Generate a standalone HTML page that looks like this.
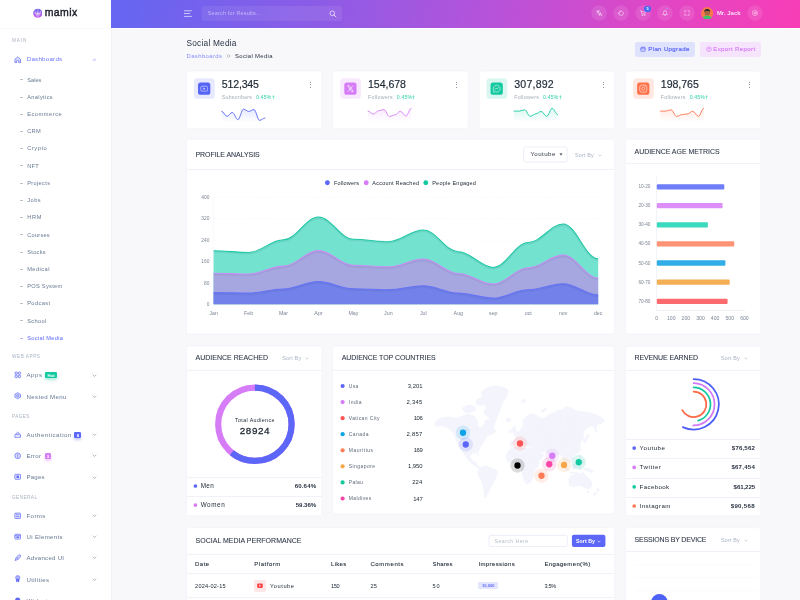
<!DOCTYPE html>
<html lang="en"><head><meta charset="utf-8"><title>Mamix - Social Media Dashboard</title><meta name="viewport" content="width=800"><style>
*{box-sizing:border-box;margin:0;padding:0}
html,body{width:800px;height:600px;overflow:hidden;background:#f8f8fb}
body{font-family:"Liberation Sans",sans-serif;position:relative;color:#212b37}
#root{position:absolute;left:0;top:0;width:800px;height:600px;overflow:hidden;will-change:transform}
#root span,#root div,#root svg,#root h1,#root h2,#root a,#root p,#root li{position:absolute;white-space:nowrap;font-weight:400;list-style:none;text-decoration:none}
#root aside,#root header,#root main,#root section,#root nav,#root ul,#root table,#root article{position:static;display:block}
.card{background:#fff;border-radius:3px;box-shadow:0 0 1.2px rgba(110,110,220,.16)}
.sep{background:#f1f2f8;height:1px}
.dot{border-radius:50%}
</style></head><body><div id="root">
<aside>
<div style="left:0.00px;top:0.00px;width:112.00px;height:600.00px;background:#fff;border-right:1px solid #f1f2f8;"></div>
<div style="left:0.00px;top:27.50px;width:110.00px;height:1.00px;background:#f9f9fc;"></div>
<svg style="left:32.7px;top:7.9px;width:9.6px;height:10.5px" viewBox="0 0 20 21"><defs><linearGradient id="lg" x1="0" y1="0" x2="0" y2="1"><stop offset="0" stop-color="#6a63f2"/><stop offset="1" stop-color="#cf5ff0"/></linearGradient></defs><circle cx="10" cy="10.5" r="9.6" fill="url(#lg)"/><path d="M4 6 L7.5 15 L10 9 L12.5 15 L16 6 M3 10.5 H17 M10 2 V19" stroke="#fff" stroke-width="1.1" fill="none" opacity=".85"/></svg>
<span id="t1" style="left:44.70px;top:6.00px;font-size:10.50px;line-height:13.65px;color:#1d1f2b;letter-spacing:0.420px;-webkit-text-stroke:.42px #1d1f2b;">mamix</span>
<nav>
<span id="t2" style="left:12.00px;top:38.00px;font-size:4.70px;line-height:6.11px;color:#a9b3c3;letter-spacing:0.927px;">MAIN</span>
<svg style="left:14.00px;top:56.00px;width:7.4px;height:7.4px" viewBox="0 0 8 8"><path d="M1 7.4 V3.6 L4 1 L7 3.6 V7.4 H5.2 V5.2 Q4 4 2.8 5.2 V7.4 Z" fill="#dfe1fd" stroke="#5c67f7" stroke-width=".8" stroke-linejoin="round"/></svg>
<span id="t3" style="left:26.70px;top:55.00px;font-size:6.20px;line-height:8.06px;color:#6b75f8;letter-spacing:0.236px;">Dashboards</span>
<svg style="left:91.50px;top:57.55px;width:5px;height:3.5px" viewBox="0 0 5 3.5"><path d="M1 2.5 L2.5 1.1 L4 2.5" fill="none" stroke="#5c67f7" stroke-width=".6" stroke-linecap="round" stroke-linejoin="round" opacity=".85"/></svg>
<ul>
<li><div style="left:20.00px;top:79.30px;width:2.80px;height:0.70px;background:#677992;opacity:.45;"></div><span id="t4" style="left:27.20px;top:77.00px;font-size:5.70px;line-height:7.41px;color:#677992;letter-spacing:-0.009px;">Sales</span></li>
<li><div style="left:20.00px;top:96.52px;width:2.80px;height:0.70px;background:#677992;opacity:.45;"></div><span id="t5" style="left:27.20px;top:94.00px;font-size:5.70px;line-height:7.41px;color:#677992;letter-spacing:0.342px;">Analytics</span></li>
<li><div style="left:20.00px;top:113.74px;width:2.80px;height:0.70px;background:#677992;opacity:.45;"></div><span id="t6" style="left:27.20px;top:111.00px;font-size:5.70px;line-height:7.41px;color:#677992;letter-spacing:0.520px;">Ecommerce</span></li>
<li><div style="left:20.00px;top:130.96px;width:2.80px;height:0.70px;background:#677992;opacity:.45;"></div><span id="t7" style="left:27.20px;top:128.00px;font-size:5.70px;line-height:7.41px;color:#677992;letter-spacing:0.273px;">CRM</span></li>
<li><div style="left:20.00px;top:148.18px;width:2.80px;height:0.70px;background:#677992;opacity:.45;"></div><span id="t8" style="left:27.20px;top:145.00px;font-size:5.70px;line-height:7.41px;color:#677992;letter-spacing:0.547px;">Crypto</span></li>
<li><div style="left:20.00px;top:165.40px;width:2.80px;height:0.70px;background:#677992;opacity:.45;"></div><span id="t9" style="left:27.20px;top:163.00px;font-size:5.70px;line-height:7.41px;color:#677992;letter-spacing:0.219px;">NFT</span></li>
<li><div style="left:20.00px;top:182.62px;width:2.80px;height:0.70px;background:#677992;opacity:.45;"></div><span id="t10" style="left:27.20px;top:180.00px;font-size:5.70px;line-height:7.41px;color:#677992;letter-spacing:0.322px;">Projects</span></li>
<li><div style="left:20.00px;top:199.84px;width:2.80px;height:0.70px;background:#677992;opacity:.45;"></div><span id="t11" style="left:27.20px;top:197.00px;font-size:5.70px;line-height:7.41px;color:#677992;letter-spacing:0.495px;">Jobs</span></li>
<li><div style="left:20.00px;top:217.06px;width:2.80px;height:0.70px;background:#677992;opacity:.45;"></div><span id="t12" style="left:27.20px;top:214.00px;font-size:5.70px;line-height:7.41px;color:#677992;letter-spacing:0.623px;">HRM</span></li>
<li><div style="left:20.00px;top:234.28px;width:2.80px;height:0.70px;background:#677992;opacity:.45;"></div><span id="t13" style="left:27.20px;top:232.00px;font-size:5.70px;line-height:7.41px;color:#677992;letter-spacing:0.219px;">Courses</span></li>
<li><div style="left:20.00px;top:251.50px;width:2.80px;height:0.70px;background:#677992;opacity:.45;"></div><span id="t14" style="left:27.20px;top:249.00px;font-size:5.70px;line-height:7.41px;color:#677992;letter-spacing:0.284px;">Stocks</span></li>
<li><div style="left:20.00px;top:268.72px;width:2.80px;height:0.70px;background:#677992;opacity:.45;"></div><span id="t15" style="left:27.20px;top:266.00px;font-size:5.70px;line-height:7.41px;color:#677992;letter-spacing:0.448px;">Medical</span></li>
<li><div style="left:20.00px;top:285.94px;width:2.80px;height:0.70px;background:#677992;opacity:.45;"></div><span id="t16" style="left:27.20px;top:283.00px;font-size:5.70px;line-height:7.41px;color:#677992;letter-spacing:0.271px;">POS System</span></li>
<li><div style="left:20.00px;top:303.16px;width:2.80px;height:0.70px;background:#677992;opacity:.45;"></div><span id="t17" style="left:27.20px;top:300.00px;font-size:5.70px;line-height:7.41px;color:#677992;letter-spacing:0.373px;">Podcast</span></li>
<li><div style="left:20.00px;top:320.38px;width:2.80px;height:0.70px;background:#677992;opacity:.45;"></div><span id="t18" style="left:27.20px;top:318.00px;font-size:5.70px;line-height:7.41px;color:#677992;letter-spacing:0.362px;">School</span></li>
<li><div style="left:20.00px;top:337.60px;width:2.80px;height:0.70px;background:#5c67f7;opacity:.45;"></div><span id="t19" style="left:27.20px;top:335.00px;font-size:5.70px;line-height:7.41px;color:#5c67f7;letter-spacing:0.294px;">Social Media</span></li>
</ul>
<span id="t20" style="left:12.00px;top:354.00px;font-size:4.70px;line-height:6.11px;color:#a9b3c3;letter-spacing:0.538px;">WEB APPS</span>
<svg style="left:14.00px;top:371.20px;width:7.4px;height:7.4px" viewBox="0 0 8 8"><g fill="#dfe1fd" stroke="#5c67f7" stroke-width=".75"><circle cx="2.4" cy="2.4" r="1.4"/><circle cx="5.9" cy="2.4" r="1.4"/><circle cx="2.4" cy="5.9" r="1.4"/><circle cx="5.9" cy="5.9" r="1.4"/></g></svg>
<span id="t21" style="left:26.50px;top:371.00px;font-size:6.10px;line-height:7.93px;color:#677992;letter-spacing:0.536px;">Apps</span>
<svg style="left:91.50px;top:373.55px;width:5px;height:3.5px" viewBox="0 0 5 3.5"><path d="M1 1.0 L2.5 2.4 L4 1.0" fill="none" stroke="#677992" stroke-width=".6" stroke-linecap="round" stroke-linejoin="round" opacity=".85"/></svg>
<svg style="left:14.00px;top:392.40px;width:7.4px;height:7.4px" viewBox="0 0 8 8"><g fill="#dfe1fd" stroke="#5c67f7" stroke-width=".75" stroke-linejoin="round"><path d="M4 .8 L7 2.4 V5.6 L4 7.3 L1 5.6 V2.4 Z"/><circle cx="4" cy="4" r="1.2"/></g></svg>
<span id="t22" style="left:26.50px;top:393.00px;font-size:6.10px;line-height:7.93px;color:#677992;letter-spacing:0.355px;">Nested Menu</span>
<svg style="left:91.50px;top:394.75px;width:5px;height:3.5px" viewBox="0 0 5 3.5"><path d="M1 1.0 L2.5 2.4 L4 1.0" fill="none" stroke="#677992" stroke-width=".6" stroke-linecap="round" stroke-linejoin="round" opacity=".85"/></svg>
<svg style="left:14.00px;top:430.90px;width:7.4px;height:7.4px" viewBox="0 0 8 8"><g fill="#dfe1fd" stroke="#5c67f7" stroke-width=".75" stroke-linejoin="round"><rect x="1" y="3.4" width="6" height="4" rx=".8"/><path d="M2.6 3.4 V2.4 Q4 .2 5.4 2.4 V3.4" fill="none"/></g></svg>
<span id="t23" style="left:26.50px;top:431.00px;font-size:6.10px;line-height:7.93px;color:#677992;letter-spacing:0.467px;">Authentication</span>
<svg style="left:91.50px;top:433.25px;width:5px;height:3.5px" viewBox="0 0 5 3.5"><path d="M1 1.0 L2.5 2.4 L4 1.0" fill="none" stroke="#677992" stroke-width=".6" stroke-linecap="round" stroke-linejoin="round" opacity=".85"/></svg>
<svg style="left:14.00px;top:452.10px;width:7.4px;height:7.4px" viewBox="0 0 8 8"><g fill="#dfe1fd" stroke="#5c67f7" stroke-width=".75"><circle cx="4" cy="4.1" r="3.1"/><path d="M4 2.5 V4.5 M4 5.4 V5.8" stroke-linecap="round"/></g></svg>
<span id="t24" style="left:26.50px;top:452.00px;font-size:6.10px;line-height:7.93px;color:#677992;letter-spacing:0.238px;">Error</span>
<svg style="left:91.50px;top:454.45px;width:5px;height:3.5px" viewBox="0 0 5 3.5"><path d="M1 1.0 L2.5 2.4 L4 1.0" fill="none" stroke="#677992" stroke-width=".6" stroke-linecap="round" stroke-linejoin="round" opacity=".85"/></svg>
<svg style="left:14.00px;top:473.20px;width:7.4px;height:7.4px" viewBox="0 0 8 8"><g fill="#dfe1fd" stroke="#5c67f7" stroke-width=".75" stroke-linejoin="round"><rect x=".9" y="1.4" width="6.2" height="5.4" rx=".8"/><rect x="2.7" y="2.8" width="2.6" height="2.6" fill="#5c67f7" stroke="none"/></g></svg>
<span id="t25" style="left:26.50px;top:473.00px;font-size:6.10px;line-height:7.93px;color:#677992;letter-spacing:0.180px;">Pages</span>
<svg style="left:91.50px;top:475.55px;width:5px;height:3.5px" viewBox="0 0 5 3.5"><path d="M1 1.0 L2.5 2.4 L4 1.0" fill="none" stroke="#677992" stroke-width=".6" stroke-linecap="round" stroke-linejoin="round" opacity=".85"/></svg>
<svg style="left:14.00px;top:511.90px;width:7.4px;height:7.4px" viewBox="0 0 8 8"><g fill="#dfe1fd" stroke="#5c67f7" stroke-width=".75" stroke-linejoin="round"><rect x=".9" y="1.2" width="6.2" height="5.8" rx=".8"/><path d="M2.2 3 H5.8 M2.2 5 H5.8" /></g></svg>
<span id="t26" style="left:26.50px;top:512.00px;font-size:6.10px;line-height:7.93px;color:#677992;letter-spacing:0.384px;">Forms</span>
<svg style="left:91.50px;top:514.25px;width:5px;height:3.5px" viewBox="0 0 5 3.5"><path d="M1 1.0 L2.5 2.4 L4 1.0" fill="none" stroke="#677992" stroke-width=".6" stroke-linecap="round" stroke-linejoin="round" opacity=".85"/></svg>
<svg style="left:14.00px;top:532.90px;width:7.4px;height:7.4px" viewBox="0 0 8 8"><g fill="#dfe1fd" stroke="#5c67f7" stroke-width=".75" stroke-linejoin="round"><rect x=".9" y="1.4" width="6.2" height="5.2" rx=".8"/><path d="M.9 3 H7.1" /><rect x="2.6" y="3.9" width="2.8" height="1.4" fill="#5c67f7" stroke="none"/></g></svg>
<span id="t27" style="left:26.50px;top:533.00px;font-size:6.10px;line-height:7.93px;color:#677992;letter-spacing:0.314px;">Ui Elements</span>
<svg style="left:91.50px;top:535.25px;width:5px;height:3.5px" viewBox="0 0 5 3.5"><path d="M1 1.0 L2.5 2.4 L4 1.0" fill="none" stroke="#677992" stroke-width=".6" stroke-linecap="round" stroke-linejoin="round" opacity=".85"/></svg>
<svg style="left:14.00px;top:554.10px;width:7.4px;height:7.4px" viewBox="0 0 8 8"><g fill="#dfe1fd" stroke="#5c67f7" stroke-width=".75" stroke-linejoin="round"><path d="M1.2 7 L2.4 3.6 L4.6 5.8 Z"/><path d="M3.2 2.8 Q5.5 .2 7 1.2 Q7.6 3.2 5.2 5 Z"/></g></svg>
<span id="t28" style="left:26.50px;top:554.00px;font-size:6.10px;line-height:7.93px;color:#677992;letter-spacing:0.261px;">Advanced UI</span>
<svg style="left:91.50px;top:556.45px;width:5px;height:3.5px" viewBox="0 0 5 3.5"><path d="M1 1.0 L2.5 2.4 L4 1.0" fill="none" stroke="#677992" stroke-width=".6" stroke-linecap="round" stroke-linejoin="round" opacity=".85"/></svg>
<svg style="left:14.00px;top:575.40px;width:7.4px;height:7.4px" viewBox="0 0 8 8"><g fill="#5c67f7" stroke="#5c67f7" stroke-width=".6" stroke-linejoin="round"><circle cx="4" cy="2.9" r="2.3" fill="#aeb4fb"/><path d="M2.6 4.6 V7.6 L4 6.6 L5.4 7.6 V4.6 Z"/></g></svg>
<span id="t29" style="left:26.50px;top:576.00px;font-size:6.10px;line-height:7.93px;color:#677992;letter-spacing:0.357px;">Utilities</span>
<svg style="left:91.50px;top:577.75px;width:5px;height:3.5px" viewBox="0 0 5 3.5"><path d="M1 1.0 L2.5 2.4 L4 1.0" fill="none" stroke="#677992" stroke-width=".6" stroke-linecap="round" stroke-linejoin="round" opacity=".85"/></svg>
<svg style="left:14.00px;top:596.50px;width:7.4px;height:7.4px" viewBox="0 0 8 8"><g fill="#5c67f7" stroke="#5c67f7" stroke-width=".6"><circle cx="4" cy="3.5" r="2.6"/></g></svg>
<span id="t30" style="left:26.50px;top:597.00px;font-size:6.10px;line-height:7.93px;color:#677992;letter-spacing:0.414px;">Widgets</span>
<span id="t31" style="left:12.00px;top:414.00px;font-size:4.70px;line-height:6.11px;color:#a9b3c3;letter-spacing:0.422px;">PAGES</span>
<span id="t32" style="left:12.00px;top:495.00px;font-size:4.70px;line-height:6.11px;color:#a9b3c3;letter-spacing:0.432px;">GENERAL</span>
<div style="left:45.00px;top:372.20px;width:12.40px;height:6.20px;background:#12c9a0;border-radius:1.2px;box-shadow:0 2px 3px rgba(18,201,160,.35);"></div>
<span id="t33" style="left:51.20px;transform:translateX(-50%);top:373.00px;font-size:4.30px;line-height:5.59px;color:#fff;font-weight:700;">Hot</span>
<div style="left:74.40px;top:431.80px;width:7.00px;height:6.40px;background:#5c67f7;border-radius:1.2px;box-shadow:0 2px 3px rgba(92,103,247,.35);"></div>
<span id="t34" style="left:77.90px;transform:translateX(-50%);top:433.00px;font-size:4.30px;line-height:5.59px;color:#fff;font-weight:700;">8</span>
<div style="left:44.50px;top:453.00px;width:6.90px;height:6.40px;background:#d77cf7;border-radius:1.2px;box-shadow:0 2px 3px rgba(215,124,247,.4);"></div>
<span id="t35" style="left:47.90px;transform:translateX(-50%);top:454.00px;font-size:4.30px;line-height:5.59px;color:#fff;font-weight:700;">3</span>
</nav></aside>
<header>
<div style="left:112.00px;top:28.00px;width:688.00px;height:1.00px;background:#fefefe;"></div>
<div style="left:111.00px;top:0.00px;width:689.00px;height:28.00px;background:linear-gradient(100deg,#6466f2 0%,#8c5ce6 30%,#b653da 55%,#e246c4 80%,#f73db6 100%);"></div>
<svg style="left:184px;top:9.5px;width:8px;height:7px" viewBox="0 0 8 7"><path d="M.4 .8 H7.4 M.4 3.5 H5.6 M.4 6.4 H7.4" stroke="#fff" stroke-width=".75" stroke-linecap="round" opacity=".85"/></svg>
<div style="left:202.00px;top:5.60px;width:139.50px;height:15.20px;background:rgba(255,255,255,.075);border-radius:2.5px;"></div>
<span id="t36" style="left:207.80px;top:10.00px;font-size:5.40px;line-height:7.02px;color:rgba(255,255,255,.5);letter-spacing:0.208px;">Search for Results...</span>
<svg style="left:329px;top:9.5px;width:8px;height:8px" viewBox="0 0 8 8"><circle cx="3.3" cy="3.3" r="2.3" fill="none" stroke="#fff" stroke-width=".8" opacity=".8"/><path d="M5 5 L7 7" stroke="#fff" stroke-width=".9" stroke-linecap="round" opacity=".8"/></svg>
<svg style="left:591.30px;top:5.3px;width:16px;height:16px" viewBox="-8 -8 16 16"><circle r="7.5" fill="rgba(255,255,255,.1)" stroke="rgba(255,255,255,.1)" stroke-width=".4"/><g fill="none" stroke="#fff" stroke-width=".7" stroke-linecap="round" stroke-linejoin="round" opacity=".72" transform="scale(.92)"><path d="M-2.6 -2 H.4 M-1.1 -2.7 V-2 M-2.2 .6 Q-.2 -.4 -.1 -2 M-2 -1 Q-1.2 .2 .2 .6 M0 2.8 L1.4 -.6 L2.8 2.8 M.5 1.8 H2.3" /></g></svg>
<svg style="left:613.20px;top:5.3px;width:16px;height:16px" viewBox="-8 -8 16 16"><circle r="7.5" fill="rgba(255,255,255,.1)" stroke="rgba(255,255,255,.1)" stroke-width=".4"/><g fill="none" stroke="#fff" stroke-width=".7" stroke-linecap="round" stroke-linejoin="round" opacity=".72" transform="scale(.92)"><path d="M-2.6 .4 Q-2.6 -1.6 -.2 -1.4 Q.8 -3 1.6 -1.4 Q2.8 -.6 2.6 .8 Q2.2 2.6 0 2.6 Q-2.6 2.6 -2.6 .4 Z M-.6 -2.6 Q.2 -2 -.2 -1.4" /></g></svg>
<svg style="left:635.20px;top:5.3px;width:16px;height:16px" viewBox="-8 -8 16 16"><circle r="7.5" fill="rgba(255,255,255,.1)" stroke="rgba(255,255,255,.1)" stroke-width=".4"/><g fill="none" stroke="#fff" stroke-width=".7" stroke-linecap="round" stroke-linejoin="round" opacity=".72" transform="scale(.92)"><path d="M-3 -2.4 H-2 L-1.2 1 H2 L2.8 -1.4 H-1.7" /><circle cx="-.9" cy="2.3" r=".45"/><circle cx="1.7" cy="2.3" r=".45"/></g></svg>
<svg style="left:657.10px;top:5.3px;width:16px;height:16px" viewBox="-8 -8 16 16"><circle r="7.5" fill="rgba(255,255,255,.1)" stroke="rgba(255,255,255,.1)" stroke-width=".4"/><g fill="none" stroke="#fff" stroke-width=".7" stroke-linecap="round" stroke-linejoin="round" opacity=".72" transform="scale(.92)"><path d="M-2.2 1.4 Q-1.6 .6 -1.6 -.6 Q-1.6 -2.6 0 -2.6 Q1.6 -2.6 1.6 -.6 Q1.6 .6 2.2 1.4 Z M-.7 2.4 Q0 3 .7 2.4" /></g></svg>
<svg style="left:678.70px;top:5.3px;width:16px;height:16px" viewBox="-8 -8 16 16"><circle r="7.5" fill="rgba(255,255,255,.1)" stroke="rgba(255,255,255,.1)" stroke-width=".4"/><g fill="none" stroke="#fff" stroke-width=".7" stroke-linecap="round" stroke-linejoin="round" opacity=".72" transform="scale(.92)"><path d="M-2.4 -1 V-2.4 H-1 M1 -2.4 H2.4 V-1 M2.4 1 V2.4 H1 M-1 2.4 H-2.4 V1" /></g></svg>
<svg style="left:747.40px;top:5.3px;width:16px;height:16px" viewBox="-8 -8 16 16"><circle r="7.5" fill="rgba(255,255,255,.1)" stroke="rgba(255,255,255,.1)" stroke-width=".4"/><g fill="none" stroke="#fff" stroke-width=".7" stroke-linecap="round" stroke-linejoin="round" opacity=".72" transform="scale(.92)"><path d="M0 -2.9 L2.5 -1.45 V1.45 L0 2.9 L-2.5 1.45 V-1.45 Z" /><circle cx="0" cy="0" r="1.1"/></g></svg>
<div style="left:644.30px;top:5.60px;width:6.40px;height:6.40px;background:#3f6cf3;border-radius:3.2px;"></div>
<span id="t37" style="left:647.50px;transform:translateX(-50%);top:6.00px;font-size:3.90px;line-height:5.07px;color:#fff;font-weight:700;">5</span>
<div style="left:666.10px;top:7.60px;width:1.60px;height:1.60px;background:#a78bfa;border-radius:1px;"></div>
<svg style="left:701px;top:7.1px;width:12.4px;height:12.4px" viewBox="0 0 12.4 12.4"><defs><clipPath id="av"><circle cx="6.2" cy="6.2" r="6.1"/></clipPath></defs><g clip-path="url(#av)"><rect width="12.4" height="12.4" fill="#f9794e"/><ellipse cx="6.2" cy="12.2" rx="5" ry="3.6" fill="#39c46a"/><circle cx="6.2" cy="5.8" r="2.7" fill="#a8683f"/><path d="M3.2 5.2 Q3.4 2 6.2 2.1 Q9 2 9.2 5.2 Q8 3.6 6.2 3.9 Q4.4 3.6 3.2 5.2 Z" fill="#20242c"/></g></svg>
<span id="t38" style="left:716.90px;top:10.00px;font-size:5.90px;line-height:7.67px;color:#fff;font-weight:700;letter-spacing:0.062px;opacity:.82;">Mr. Jack</span>
</header>
<main>
<section>
<h1 id="t39" style="left:186.50px;top:38.00px;font-size:8.30px;line-height:10.79px;color:#2a3343;letter-spacing:0.226px;">Social Media</h1>
<a id="t40" style="left:186.50px;top:53.00px;font-size:5.90px;line-height:7.67px;color:#848bf9;letter-spacing:0.415px;">Dashboards</a>
<svg style="left:226px;top:54.2px;width:5px;height:4px" viewBox="0 0 5 4"><path d="M.6 .6 L2.2 2 L.6 3.4 M2.6 .6 L4.2 2 L2.6 3.4" fill="none" stroke="#8c9097" stroke-width=".55"/></svg>
<span id="t41" style="left:235.00px;top:53.00px;font-size:5.90px;line-height:7.67px;color:#2a3343;letter-spacing:0.342px;">Social Media</span>
<div style="left:634.80px;top:42.00px;width:60.00px;height:14.80px;background:#dfe2fd;border-radius:2px;"></div>
<svg style="left:640.2px;top:46.4px;width:6px;height:6px" viewBox="0 0 6 6"><rect x=".8" y="1.4" width="4.4" height="3.8" rx=".5" fill="none" stroke="#5c67f7" stroke-width=".7"/><path d="M.8 2.8 H5.2 M2 .7 V1.6 M4 .7 V1.6" stroke="#5c67f7" stroke-width=".7"/></svg>
<span id="t42" style="left:648.30px;top:45.00px;font-size:6.10px;line-height:7.93px;color:#5c67f7;letter-spacing:0.339px;-webkit-text-stroke:.18px #5c67f7;">Plan Upgrade</span>
<div style="left:700.00px;top:42.00px;width:60.60px;height:14.80px;background:#f6e4fc;border-radius:2px;"></div>
<svg style="left:705.6px;top:46.4px;width:6px;height:6px" viewBox="0 0 6 6"><circle cx="3" cy="3.2" r="2.3" fill="none" stroke="#d77cf7" stroke-width=".7"/><path d="M3 4.3 V2.2 M2.1 3 L3 2.1 L3.9 3" stroke="#d77cf7" stroke-width=".6" fill="none"/></svg>
<span id="t43" style="left:713.30px;top:45.00px;font-size:6.10px;line-height:7.93px;color:#d77cf7;letter-spacing:0.349px;-webkit-text-stroke:.15px #d77cf7;">Export Report</span>
</section>
<section>
<article>
<svg style="left:0;top:0;width:800px;height:600px" viewBox="0 0 800 600"><rect x="186.45" y="70.95" width="135.60" height="57.60" rx="2.80" fill="#fff" stroke="#eeeefa" stroke-width=".6" class="card"/></svg>
<svg style="left:0;top:0;width:800px;height:600px" viewBox="0 0 800 600"><rect x="194.00" y="78.25" width="20.70" height="20.50" rx="3.60" fill="#e7e9fe"/><rect x="198.05" y="82.50" width="12.25" height="12.25" rx="2.60" fill="#5464f4"/></svg>
<svg style="left:0;top:0;width:800px;height:600px" viewBox="0 0 800 600"><g transform="translate(204.20 88.65) scale(.95)" opacity=".8"><rect x="-3.6" y="-2.6" width="7.2" height="5.2" rx="1.3" fill="none" stroke="#fff" stroke-width=".65"/><path d="M-.9 -1.2 L1.3 0 L-.9 1.2 Z" fill="#fff"/></g></svg>
<span id="t44" style="left:221.75px;top:78.00px;font-size:10.60px;line-height:13.78px;color:#212b37;letter-spacing:-0.183px;-webkit-text-stroke:.16px #212b37;">512,345</span>
<span id="t45" style="left:221.75px;top:94.00px;font-size:5.30px;line-height:6.89px;color:#a3abb8;letter-spacing:0.223px;">Subscribers</span>
<span id="t46" style="left:256.15px;top:94.00px;font-size:5.10px;line-height:6.63px;color:#2bcfa8;letter-spacing:0.187px;">0.45%</span>
<svg style="left:271.75px;top:95.2px;width:3px;height:4.6px" viewBox="0 0 3 4.6"><path d="M1.5 4.2 V.8 M.5 1.8 L1.5 .7 L2.5 1.8" fill="none" stroke="#2bcfa8" stroke-width=".55"/></svg>
<div style="left:310.05px;top:81.70px;width:1.05px;height:1.05px;background:#6b7686;border-radius:1px;"></div>
<div style="left:310.05px;top:84.10px;width:1.05px;height:1.05px;background:#6b7686;border-radius:1px;"></div>
<div style="left:310.05px;top:86.50px;width:1.05px;height:1.05px;background:#6b7686;border-radius:1px;"></div>
<svg style="left:0;top:0;width:800px;height:600px" viewBox="0 0 800 600"><defs><linearGradient id="sg5464f4" x1="0" y1="108" x2="0" y2="121.5" gradientUnits="userSpaceOnUse"><stop offset="0" stop-color="#5464f4" stop-opacity=".16"/><stop offset="1" stop-color="#5464f4" stop-opacity="0.01"/></linearGradient></defs><path d="M221.75 111.25 C223.69 111.25 225.06 116.35 227.00 116.35 C228.94 116.35 230.31 112.40 232.25 112.40 C234.34 112.40 235.81 119.65 237.90 119.65 C239.97 119.65 241.43 109.15 243.50 109.15 C245.44 109.15 246.81 111.40 248.75 111.40 C250.69 111.40 252.06 109.60 254.00 109.60 C256.07 109.60 257.53 120.40 259.60 120.40 C261.56 120.40 262.94 118.00 264.90 118.00 L264.90 121.5 L221.75 121.5 Z" fill="url(#sg5464f4)"/><path d="M221.75 111.25 C223.69 111.25 225.06 116.35 227.00 116.35 C228.94 116.35 230.31 112.40 232.25 112.40 C234.34 112.40 235.81 119.65 237.90 119.65 C239.97 119.65 241.43 109.15 243.50 109.15 C245.44 109.15 246.81 111.40 248.75 111.40 C250.69 111.40 252.06 109.60 254.00 109.60 C256.07 109.60 257.53 120.40 259.60 120.40 C261.56 120.40 262.94 118.00 264.90 118.00" fill="none" stroke="#5464f4" stroke-width="1.0" stroke-linejoin="round" stroke-linecap="round" opacity=".88"/></svg>
</article>
<article>
<svg style="left:0;top:0;width:800px;height:600px" viewBox="0 0 800 600"><rect x="332.70" y="70.95" width="135.60" height="57.60" rx="2.80" fill="#fff" stroke="#eeeefa" stroke-width=".6" class="card"/></svg>
<svg style="left:0;top:0;width:800px;height:600px" viewBox="0 0 800 600"><rect x="340.25" y="78.25" width="20.70" height="20.50" rx="3.60" fill="#f8e9fe"/><rect x="344.30" y="82.50" width="12.25" height="12.25" rx="2.60" fill="#d77cf7"/></svg>
<svg style="left:0;top:0;width:800px;height:600px" viewBox="0 0 800 600"><g transform="translate(350.45 88.65) scale(.95)" opacity=".8"><path d="M-3 -3.2 H-1.2 L3 3.2 H1.2 Z M2.7 -3.2 L-2.8 3.2" fill="none" stroke="#fff" stroke-width=".8"/></g></svg>
<span id="t47" style="left:368.00px;top:78.00px;font-size:10.60px;line-height:13.78px;color:#212b37;letter-spacing:-0.049px;-webkit-text-stroke:.16px #212b37;">154,678</span>
<span id="t48" style="left:368.00px;top:94.00px;font-size:5.30px;line-height:6.89px;color:#a3abb8;letter-spacing:0.241px;">Followers</span>
<span id="t49" style="left:396.80px;top:94.00px;font-size:5.10px;line-height:6.63px;color:#2bcfa8;letter-spacing:0.187px;">0.45%</span>
<svg style="left:412.40px;top:95.2px;width:3px;height:4.6px" viewBox="0 0 3 4.6"><path d="M1.5 4.2 V.8 M.5 1.8 L1.5 .7 L2.5 1.8" fill="none" stroke="#2bcfa8" stroke-width=".55"/></svg>
<div style="left:456.30px;top:81.70px;width:1.05px;height:1.05px;background:#6b7686;border-radius:1px;"></div>
<div style="left:456.30px;top:84.10px;width:1.05px;height:1.05px;background:#6b7686;border-radius:1px;"></div>
<div style="left:456.30px;top:86.50px;width:1.05px;height:1.05px;background:#6b7686;border-radius:1px;"></div>
<svg style="left:0;top:0;width:800px;height:600px" viewBox="0 0 800 600"><defs><linearGradient id="sgd77cf7" x1="0" y1="108" x2="0" y2="121.5" gradientUnits="userSpaceOnUse"><stop offset="0" stop-color="#d77cf7" stop-opacity=".16"/><stop offset="1" stop-color="#d77cf7" stop-opacity="0.01"/></linearGradient></defs><path d="M368.10 111.10 C370.06 111.10 371.44 114.10 373.40 114.10 C375.33 114.10 376.67 110.65 378.60 110.65 C380.56 110.65 381.94 109.60 383.90 109.60 C385.97 109.60 387.43 116.50 389.50 116.50 C391.44 116.50 392.81 115.00 394.75 115.00 C396.84 115.00 398.31 111.25 400.40 111.25 C402.44 111.25 403.86 116.10 405.90 116.10 C407.83 116.10 409.17 108.25 411.10 108.25 L411.10 121.5 L368.10 121.5 Z" fill="url(#sgd77cf7)"/><path d="M368.10 111.10 C370.06 111.10 371.44 114.10 373.40 114.10 C375.33 114.10 376.67 110.65 378.60 110.65 C380.56 110.65 381.94 109.60 383.90 109.60 C385.97 109.60 387.43 116.50 389.50 116.50 C391.44 116.50 392.81 115.00 394.75 115.00 C396.84 115.00 398.31 111.25 400.40 111.25 C402.44 111.25 403.86 116.10 405.90 116.10 C407.83 116.10 409.17 108.25 411.10 108.25" fill="none" stroke="#d77cf7" stroke-width="1.0" stroke-linejoin="round" stroke-linecap="round" opacity=".88"/></svg>
</article>
<article>
<svg style="left:0;top:0;width:800px;height:600px" viewBox="0 0 800 600"><rect x="478.95" y="70.95" width="135.60" height="57.60" rx="2.80" fill="#fff" stroke="#eeeefa" stroke-width=".6" class="card"/></svg>
<svg style="left:0;top:0;width:800px;height:600px" viewBox="0 0 800 600"><rect x="486.50" y="78.25" width="20.70" height="20.50" rx="3.60" fill="#d9f7f0"/><rect x="490.55" y="82.50" width="12.25" height="12.25" rx="2.60" fill="#12c9a0"/></svg>
<svg style="left:0;top:0;width:800px;height:600px" viewBox="0 0 800 600"><g transform="translate(496.70 88.65) scale(.95)" opacity=".8"><path d="M0 -3.6 A3.6 3.6 0 1 1 -1.6 3.2 L-3.5 3.7 L-3.1 1.9 A3.6 3.6 0 0 1 0 -3.6 Z" fill="none" stroke="#fff" stroke-width=".7" stroke-linejoin="round"/><path d="M-1.9 .8 L-.6 -.6 L.5 .3 L1.9 -1" fill="none" stroke="#fff" stroke-width=".7" stroke-linecap="round" stroke-linejoin="round"/></g></svg>
<span id="t50" style="left:514.25px;top:78.00px;font-size:10.60px;line-height:13.78px;color:#212b37;letter-spacing:0.201px;-webkit-text-stroke:.16px #212b37;">307,892</span>
<span id="t51" style="left:514.25px;top:94.00px;font-size:5.30px;line-height:6.89px;color:#a3abb8;letter-spacing:0.241px;">Followers</span>
<span id="t52" style="left:543.05px;top:94.00px;font-size:5.10px;line-height:6.63px;color:#2bcfa8;letter-spacing:0.187px;">0.45%</span>
<svg style="left:558.65px;top:95.2px;width:3px;height:4.6px" viewBox="0 0 3 4.6"><path d="M1.5 4.2 V.8 M.5 1.8 L1.5 .7 L2.5 1.8" fill="none" stroke="#2bcfa8" stroke-width=".55"/></svg>
<div style="left:602.55px;top:81.70px;width:1.05px;height:1.05px;background:#6b7686;border-radius:1px;"></div>
<div style="left:602.55px;top:84.10px;width:1.05px;height:1.05px;background:#6b7686;border-radius:1px;"></div>
<div style="left:602.55px;top:86.50px;width:1.05px;height:1.05px;background:#6b7686;border-radius:1px;"></div>
<svg style="left:0;top:0;width:800px;height:600px" viewBox="0 0 800 600"><defs><linearGradient id="sg12c9a0" x1="0" y1="108" x2="0" y2="121.5" gradientUnits="userSpaceOnUse"><stop offset="0" stop-color="#12c9a0" stop-opacity=".16"/><stop offset="1" stop-color="#12c9a0" stop-opacity="0.01"/></linearGradient></defs><path d="M514.10 111.10 C516.06 111.10 517.44 111.10 519.40 111.10 C521.33 111.10 522.67 109.75 524.60 109.75 C526.69 109.75 528.16 116.35 530.25 116.35 C532.34 116.35 533.81 113.90 535.90 113.90 C537.83 113.90 539.17 111.40 541.10 111.40 C543.19 111.40 544.66 116.35 546.75 116.35 C548.77 116.35 550.18 108.25 552.20 108.25 C554.20 108.25 555.60 114.60 557.60 114.60 L557.60 121.5 L514.10 121.5 Z" fill="url(#sg12c9a0)"/><path d="M514.10 111.10 C516.06 111.10 517.44 111.10 519.40 111.10 C521.33 111.10 522.67 109.75 524.60 109.75 C526.69 109.75 528.16 116.35 530.25 116.35 C532.34 116.35 533.81 113.90 535.90 113.90 C537.83 113.90 539.17 111.40 541.10 111.40 C543.19 111.40 544.66 116.35 546.75 116.35 C548.77 116.35 550.18 108.25 552.20 108.25 C554.20 108.25 555.60 114.60 557.60 114.60" fill="none" stroke="#12c9a0" stroke-width="1.0" stroke-linejoin="round" stroke-linecap="round" opacity=".88"/></svg>
</article>
<article>
<svg style="left:0;top:0;width:800px;height:600px" viewBox="0 0 800 600"><rect x="625.55" y="70.95" width="135.25" height="57.60" rx="2.80" fill="#fff" stroke="#eeeefa" stroke-width=".6" class="card"/></svg>
<svg style="left:0;top:0;width:800px;height:600px" viewBox="0 0 800 600"><rect x="633.10" y="78.25" width="20.70" height="20.50" rx="3.60" fill="#ffe8e1"/><rect x="637.15" y="82.50" width="12.25" height="12.25" rx="2.60" fill="#ff7149"/></svg>
<svg style="left:0;top:0;width:800px;height:600px" viewBox="0 0 800 600"><g transform="translate(643.30 88.65) scale(.95)" opacity=".8"><rect x="-3.7" y="-3.7" width="7.4" height="7.4" rx="2" fill="none" stroke="#fff" stroke-width=".75"/><circle r="1.6" fill="none" stroke="#fff" stroke-width=".7"/><circle cx="2.1" cy="-2.1" r=".4" fill="#fff"/></g></svg>
<span id="t53" style="left:660.85px;top:78.00px;font-size:10.60px;line-height:13.78px;color:#212b37;letter-spacing:-0.049px;-webkit-text-stroke:.16px #212b37;">198,765</span>
<span id="t54" style="left:660.85px;top:94.00px;font-size:5.30px;line-height:6.89px;color:#a3abb8;letter-spacing:0.241px;">Followers</span>
<span id="t55" style="left:689.65px;top:94.00px;font-size:5.10px;line-height:6.63px;color:#2bcfa8;letter-spacing:0.187px;">0.45%</span>
<svg style="left:705.25px;top:95.2px;width:3px;height:4.6px" viewBox="0 0 3 4.6"><path d="M1.5 4.2 V.8 M.5 1.8 L1.5 .7 L2.5 1.8" fill="none" stroke="#2bcfa8" stroke-width=".55"/></svg>
<div style="left:749.15px;top:81.70px;width:1.05px;height:1.05px;background:#6b7686;border-radius:1px;"></div>
<div style="left:749.15px;top:84.10px;width:1.05px;height:1.05px;background:#6b7686;border-radius:1px;"></div>
<div style="left:749.15px;top:86.50px;width:1.05px;height:1.05px;background:#6b7686;border-radius:1px;"></div>
<svg style="left:0;top:0;width:800px;height:600px" viewBox="0 0 800 600"><defs><linearGradient id="sgff7149" x1="0" y1="108" x2="0" y2="121.5" gradientUnits="userSpaceOnUse"><stop offset="0" stop-color="#ff7149" stop-opacity=".16"/><stop offset="1" stop-color="#ff7149" stop-opacity="0.01"/></linearGradient></defs><path d="M660.50 111.10 C662.44 111.10 663.81 111.10 665.75 111.10 C667.69 111.10 669.06 109.75 671.00 109.75 C673.07 109.75 674.53 116.35 676.60 116.35 C678.69 116.35 680.16 114.60 682.25 114.60 C684.19 114.60 685.56 113.90 687.50 113.90 C689.44 113.90 690.81 111.25 692.75 111.25 C694.84 111.25 696.31 116.35 698.40 116.35 C700.33 116.35 701.67 108.25 703.60 108.25 L703.60 121.5 L660.50 121.5 Z" fill="url(#sgff7149)"/><path d="M660.50 111.10 C662.44 111.10 663.81 111.10 665.75 111.10 C667.69 111.10 669.06 109.75 671.00 109.75 C673.07 109.75 674.53 116.35 676.60 116.35 C678.69 116.35 680.16 114.60 682.25 114.60 C684.19 114.60 685.56 113.90 687.50 113.90 C689.44 113.90 690.81 111.25 692.75 111.25 C694.84 111.25 696.31 116.35 698.40 116.35 C700.33 116.35 701.67 108.25 703.60 108.25" fill="none" stroke="#ff7149" stroke-width="1.0" stroke-linejoin="round" stroke-linecap="round" opacity=".88"/></svg>
</article>
</section>
<section>
<svg style="left:0;top:0;width:800px;height:600px" viewBox="0 0 800 600"><rect x="186.45" y="139.20" width="428.10" height="194.90" rx="2.80" fill="#fff" stroke="#eeeefa" stroke-width=".6" class="card"/></svg>
<h2 id="t56" style="left:195.50px;top:150.00px;font-size:7.00px;line-height:9.10px;color:#2a3343;letter-spacing:-0.069px;-webkit-text-stroke:.06px #2a3343;">PROFILE ANALYSIS</h2><div style="left:187.00px;top:169.30px;width:427.00px;height:1.00px;background:#f1f2f9;"></div>
<svg style="left:0;top:0;width:800px;height:600px" viewBox="0 0 800 600"><rect x="523.70" y="146.90" width="43.40" height="15.20" rx="2.20" fill="#fff" stroke="#eceef8" stroke-width="1"/></svg>
<span id="t57" style="left:530.40px;top:150.00px;font-size:6.20px;line-height:8.06px;color:#2f3746;letter-spacing:0.419px;">Youtube</span>
<svg style="left:558.5px;top:153.2px;width:4px;height:3px" viewBox="0 0 4 3"><path d="M.4 .5 H3.6 L2 2.4 Z" fill="#3a4452"/></svg>
<span id="t58" style="left:575.00px;top:152.00px;font-size:5.40px;line-height:7.02px;color:#a9b3c3;letter-spacing:0.185px;">Sort By</span><svg style="left:598.00px;top:153.70px;width:4px;height:3px" viewBox="0 0 4 3"><path d="M.6 .8 L2 2.2 L3.4 .8" fill="none" stroke="#a9b3c3" stroke-width=".6"/></svg>
<svg style="left:0;top:0;width:800px;height:600px" viewBox="0 0 800 600"><circle cx="327.40" cy="182.70" r="2.45" fill="#5c67f7"/></svg>
<span id="t59" style="left:334.00px;top:180.00px;font-size:5.50px;line-height:7.15px;color:#212b37;letter-spacing:0.182px;">Followers</span>
<svg style="left:0;top:0;width:800px;height:600px" viewBox="0 0 800 600"><circle cx="366.20" cy="182.70" r="2.45" fill="#d77cf7"/></svg>
<span id="t60" style="left:372.30px;top:180.00px;font-size:5.50px;line-height:7.15px;color:#212b37;letter-spacing:0.234px;">Account Reached</span>
<svg style="left:0;top:0;width:800px;height:600px" viewBox="0 0 800 600"><circle cx="425.80" cy="182.70" r="2.45" fill="#12c9a0"/></svg>
<span id="t61" style="left:432.20px;top:180.00px;font-size:5.50px;line-height:7.15px;color:#212b37;letter-spacing:0.232px;">People Engaged</span>
<span id="t62" style="right:590.70px;top:302.00px;font-size:4.80px;line-height:6.24px;color:#7b8594;">0</span>
<span id="t63" style="right:590.70px;top:281.00px;font-size:4.80px;line-height:6.24px;color:#7b8594;">80</span>
<span id="t64" style="right:590.70px;top:259.00px;font-size:4.80px;line-height:6.24px;color:#7b8594;">160</span>
<span id="t65" style="right:590.70px;top:238.00px;font-size:4.80px;line-height:6.24px;color:#7b8594;">240</span>
<span id="t66" style="right:590.70px;top:216.00px;font-size:4.80px;line-height:6.24px;color:#7b8594;">320</span>
<span id="t67" style="right:590.70px;top:195.00px;font-size:4.80px;line-height:6.24px;color:#7b8594;">400</span>
<span id="t68" style="left:213.60px;transform:translateX(-50%);top:310.00px;font-size:5.30px;line-height:6.89px;color:#7b8594;">Jan</span>
<span id="t69" style="left:248.56px;transform:translateX(-50%);top:310.00px;font-size:5.30px;line-height:6.89px;color:#7b8594;">Feb</span>
<span id="t70" style="left:283.52px;transform:translateX(-50%);top:310.00px;font-size:5.30px;line-height:6.89px;color:#7b8594;">Mar</span>
<span id="t71" style="left:318.48px;transform:translateX(-50%);top:310.00px;font-size:5.30px;line-height:6.89px;color:#7b8594;">Apr</span>
<span id="t72" style="left:353.44px;transform:translateX(-50%);top:310.00px;font-size:5.30px;line-height:6.89px;color:#7b8594;">May</span>
<span id="t73" style="left:388.40px;transform:translateX(-50%);top:310.00px;font-size:5.30px;line-height:6.89px;color:#7b8594;">Jun</span>
<span id="t74" style="left:423.36px;transform:translateX(-50%);top:310.00px;font-size:5.30px;line-height:6.89px;color:#7b8594;">Jul</span>
<span id="t75" style="left:458.32px;transform:translateX(-50%);top:310.00px;font-size:5.30px;line-height:6.89px;color:#7b8594;">Aug</span>
<span id="t76" style="left:493.28px;transform:translateX(-50%);top:310.00px;font-size:5.30px;line-height:6.89px;color:#7b8594;">sep</span>
<span id="t77" style="left:528.24px;transform:translateX(-50%);top:310.00px;font-size:5.30px;line-height:6.89px;color:#7b8594;">oct</span>
<span id="t78" style="left:563.20px;transform:translateX(-50%);top:310.00px;font-size:5.30px;line-height:6.89px;color:#7b8594;">nov</span>
<span id="t79" style="left:598.16px;transform:translateX(-50%);top:310.00px;font-size:5.30px;line-height:6.89px;color:#7b8594;">dec</span>
<svg style="left:0;top:0;width:800px;height:600px" viewBox="0 0 800 600"><path d="M213.6 282.82 H598.2" stroke="#eef0f6" stroke-width=".5" stroke-dasharray="2 2.3"/><path d="M213.6 261.45 H598.2" stroke="#eef0f6" stroke-width=".5" stroke-dasharray="2 2.3"/><path d="M213.6 240.07 H598.2" stroke="#eef0f6" stroke-width=".5" stroke-dasharray="2 2.3"/><path d="M213.6 218.70 H598.2" stroke="#eef0f6" stroke-width=".5" stroke-dasharray="2 2.3"/><path d="M213.6 197.32 H598.2" stroke="#eef0f6" stroke-width=".5" stroke-dasharray="2 2.3"/><path d="M213.3 197 V304.20" stroke="#eef0f6" stroke-width=".5"/><path d="M213.60 250.76 C226.55 250.76 235.61 252.47 248.56 252.47 C261.51 252.47 270.57 239.80 283.52 239.80 C296.47 239.80 305.53 217.09 318.48 217.09 C331.43 217.09 340.49 239.27 353.44 239.27 C366.39 239.27 375.45 241.68 388.40 241.68 C401.35 241.68 410.41 229.92 423.36 229.92 C436.31 229.92 445.37 251.67 458.32 251.67 C471.27 251.67 480.33 267.41 493.28 267.41 C506.23 267.41 515.29 242.48 528.24 242.48 C541.19 242.48 550.25 224.04 563.20 224.04 C576.15 224.04 585.21 258.78 598.16 258.78 L598.16 304.20 L213.60 304.20 Z" fill="#73e2cf"/><path d="M213.60 250.76 C226.55 250.76 235.61 252.47 248.56 252.47 C261.51 252.47 270.57 239.80 283.52 239.80 C296.47 239.80 305.53 217.09 318.48 217.09 C331.43 217.09 340.49 239.27 353.44 239.27 C366.39 239.27 375.45 241.68 388.40 241.68 C401.35 241.68 410.41 229.92 423.36 229.92 C436.31 229.92 445.37 251.67 458.32 251.67 C471.27 251.67 480.33 267.41 493.28 267.41 C506.23 267.41 515.29 242.48 528.24 242.48 C541.19 242.48 550.25 224.04 563.20 224.04 C576.15 224.04 585.21 258.78 598.16 258.78" fill="none" stroke="rgba(40,40,90,.07)" stroke-width="1.6" transform="translate(0 1.3)"/><path d="M213.60 250.76 C226.55 250.76 235.61 252.47 248.56 252.47 C261.51 252.47 270.57 239.80 283.52 239.80 C296.47 239.80 305.53 217.09 318.48 217.09 C331.43 217.09 340.49 239.27 353.44 239.27 C366.39 239.27 375.45 241.68 388.40 241.68 C401.35 241.68 410.41 229.92 423.36 229.92 C436.31 229.92 445.37 251.67 458.32 251.67 C471.27 251.67 480.33 267.41 493.28 267.41 C506.23 267.41 515.29 242.48 528.24 242.48 C541.19 242.48 550.25 224.04 563.20 224.04 C576.15 224.04 585.21 258.78 598.16 258.78" fill="none" stroke="#1ec9a4" stroke-width="1.05"/><path d="M213.60 273.20 C226.55 273.20 235.61 274.01 248.56 274.01 C261.51 274.01 270.57 266.10 283.52 266.10 C296.47 266.10 305.53 250.60 318.48 250.60 C331.43 250.60 340.49 265.30 353.44 265.30 C366.39 265.30 375.45 266.87 388.40 266.87 C401.35 266.87 410.41 259.04 423.36 259.04 C436.31 259.04 445.37 273.47 458.32 273.47 C471.27 273.47 480.33 283.95 493.28 283.95 C506.23 283.95 515.29 267.67 528.24 267.67 C541.19 267.67 550.25 255.04 563.20 255.04 C576.15 255.04 585.21 277.91 598.16 277.91 L598.16 304.20 L213.60 304.20 Z" fill="#a6a6e0"/><path d="M213.60 273.20 C226.55 273.20 235.61 274.01 248.56 274.01 C261.51 274.01 270.57 266.10 283.52 266.10 C296.47 266.10 305.53 250.60 318.48 250.60 C331.43 250.60 340.49 265.30 353.44 265.30 C366.39 265.30 375.45 266.87 388.40 266.87 C401.35 266.87 410.41 259.04 423.36 259.04 C436.31 259.04 445.37 273.47 458.32 273.47 C471.27 273.47 480.33 283.95 493.28 283.95 C506.23 283.95 515.29 267.67 528.24 267.67 C541.19 267.67 550.25 255.04 563.20 255.04 C576.15 255.04 585.21 277.91 598.16 277.91" fill="none" stroke="rgba(40,40,90,.07)" stroke-width="1.6" transform="translate(0 1.3)"/><path d="M213.60 273.20 C226.55 273.20 235.61 274.01 248.56 274.01 C261.51 274.01 270.57 266.10 283.52 266.10 C296.47 266.10 305.53 250.60 318.48 250.60 C331.43 250.60 340.49 265.30 353.44 265.30 C366.39 265.30 375.45 266.87 388.40 266.87 C401.35 266.87 410.41 259.04 423.36 259.04 C436.31 259.04 445.37 273.47 458.32 273.47 C471.27 273.47 480.33 283.95 493.28 283.95 C506.23 283.95 515.29 267.67 528.24 267.67 C541.19 267.67 550.25 255.04 563.20 255.04 C576.15 255.04 585.21 277.91 598.16 277.91" fill="none" stroke="#cb8df5" stroke-width="1.05"/><path d="M213.60 292.60 C226.55 292.60 235.61 293.14 248.56 293.14 C261.51 293.14 270.57 288.97 283.52 288.97 C296.47 288.97 305.53 281.59 318.48 281.59 C331.43 281.59 340.49 288.70 353.44 288.70 C366.39 288.70 375.45 289.77 388.40 289.77 C401.35 289.77 410.41 285.76 423.36 285.76 C436.31 285.76 445.37 293.14 458.32 293.14 C471.27 293.14 480.33 298.13 493.28 298.13 C506.23 298.13 515.29 289.77 528.24 289.77 C541.19 289.77 550.25 283.68 563.20 283.68 C576.15 283.68 585.21 294.98 598.16 294.98 L598.16 304.20 L213.60 304.20 Z" fill="#7282ea"/><path d="M213.60 292.60 C226.55 292.60 235.61 293.14 248.56 293.14 C261.51 293.14 270.57 288.97 283.52 288.97 C296.47 288.97 305.53 281.59 318.48 281.59 C331.43 281.59 340.49 288.70 353.44 288.70 C366.39 288.70 375.45 289.77 388.40 289.77 C401.35 289.77 410.41 285.76 423.36 285.76 C436.31 285.76 445.37 293.14 458.32 293.14 C471.27 293.14 480.33 298.13 493.28 298.13 C506.23 298.13 515.29 289.77 528.24 289.77 C541.19 289.77 550.25 283.68 563.20 283.68 C576.15 283.68 585.21 294.98 598.16 294.98" fill="none" stroke="rgba(40,40,90,.07)" stroke-width="1.6" transform="translate(0 1.3)"/><path d="M213.60 292.60 C226.55 292.60 235.61 293.14 248.56 293.14 C261.51 293.14 270.57 288.97 283.52 288.97 C296.47 288.97 305.53 281.59 318.48 281.59 C331.43 281.59 340.49 288.70 353.44 288.70 C366.39 288.70 375.45 289.77 388.40 289.77 C401.35 289.77 410.41 285.76 423.36 285.76 C436.31 285.76 445.37 293.14 458.32 293.14 C471.27 293.14 480.33 298.13 493.28 298.13 C506.23 298.13 515.29 289.77 528.24 289.77 C541.19 289.77 550.25 283.68 563.20 283.68 C576.15 283.68 585.21 294.98 598.16 294.98" fill="none" stroke="#6572f6" stroke-width="1.05"/></svg>
</section>
<section>
<svg style="left:0;top:0;width:800px;height:600px" viewBox="0 0 800 600"><rect x="625.55" y="139.20" width="135.25" height="194.90" rx="2.80" fill="#fff" stroke="#eeeefa" stroke-width=".6" class="card"/></svg>
<h2 id="t80" style="left:634.50px;top:147.00px;font-size:7.00px;line-height:9.10px;color:#2a3343;letter-spacing:-0.040px;-webkit-text-stroke:.06px #2a3343;">AUDIENCE AGE METRICS</h2><div style="left:626.00px;top:163.40px;width:134.40px;height:1.00px;background:#f1f2f9;"></div>
<div style="left:656.00px;top:176.00px;width:1.00px;height:134.60px;background:#f3f4f9;"></div>
<div style="left:656.00px;top:310.00px;width:88.50px;height:1.00px;background:#f0f1f7;"></div>
<span id="t81" style="right:149.60px;top:184.00px;font-size:4.70px;line-height:6.11px;color:#7b8594;">10-20</span>
<span id="t82" style="right:149.60px;top:203.00px;font-size:4.70px;line-height:6.11px;color:#7b8594;">20-30</span>
<span id="t83" style="right:149.60px;top:222.00px;font-size:4.70px;line-height:6.11px;color:#7b8594;">30-40</span>
<span id="t84" style="right:149.60px;top:241.00px;font-size:4.70px;line-height:6.11px;color:#7b8594;">40-50</span>
<span id="t85" style="right:149.60px;top:261.00px;font-size:4.70px;line-height:6.11px;color:#7b8594;">50-60</span>
<span id="t86" style="right:149.60px;top:280.00px;font-size:4.70px;line-height:6.11px;color:#7b8594;">60-70</span>
<span id="t87" style="right:149.60px;top:299.00px;font-size:4.70px;line-height:6.11px;color:#7b8594;">70-80</span>
<svg style="left:0;top:0;width:800px;height:600px" viewBox="0 0 800 600"><rect x="656.80" y="184.15" width="67.50" height="5.30" rx="1.00" fill="#6f7df8"/><rect x="656.80" y="202.95" width="65.80" height="5.30" rx="1.00" fill="#dc8ff8"/><rect x="656.80" y="222.15" width="51.10" height="5.30" rx="1.00" fill="#3bd9bd"/><rect x="656.80" y="241.15" width="77.40" height="5.30" rx="1.00" fill="#fe9274"/><rect x="656.80" y="260.35" width="68.60" height="5.30" rx="1.00" fill="#30ade6"/><rect x="656.80" y="279.45" width="72.90" height="5.30" rx="1.00" fill="#f4ae53"/><rect x="656.80" y="298.65" width="70.80" height="5.30" rx="1.00" fill="#fd6b6e"/></svg>
<span id="t88" style="left:656.60px;transform:translateX(-50%);top:315.00px;font-size:5.10px;line-height:6.63px;color:#7b8594;">0</span>
<span id="t89" style="left:671.23px;transform:translateX(-50%);top:315.00px;font-size:5.10px;line-height:6.63px;color:#7b8594;">100</span>
<span id="t90" style="left:685.86px;transform:translateX(-50%);top:315.00px;font-size:5.10px;line-height:6.63px;color:#7b8594;">200</span>
<span id="t91" style="left:700.49px;transform:translateX(-50%);top:315.00px;font-size:5.10px;line-height:6.63px;color:#7b8594;">300</span>
<span id="t92" style="left:715.12px;transform:translateX(-50%);top:315.00px;font-size:5.10px;line-height:6.63px;color:#7b8594;">400</span>
<span id="t93" style="left:729.75px;transform:translateX(-50%);top:315.00px;font-size:5.10px;line-height:6.63px;color:#7b8594;">500</span>
<span id="t94" style="left:744.38px;transform:translateX(-50%);top:315.00px;font-size:5.10px;line-height:6.63px;color:#7b8594;">600</span>
</section>
<section>
<svg style="left:0;top:0;width:800px;height:600px" viewBox="0 0 800 600"><rect x="186.45" y="346.10" width="135.60" height="169.60" rx="2.80" fill="#fff" stroke="#eeeefa" stroke-width=".6" class="card"/></svg>
<h2 id="t95" style="left:195.50px;top:353.00px;font-size:7.00px;line-height:9.10px;color:#2a3343;letter-spacing:0.009px;-webkit-text-stroke:.06px #2a3343;">AUDIENCE REACHED</h2><div style="left:187.00px;top:369.80px;width:134.60px;height:1.00px;background:#f1f2f9;"></div>
<span id="t96" style="left:282.30px;top:355.00px;font-size:5.40px;line-height:7.02px;color:#a9b3c3;letter-spacing:0.185px;">Sort By</span><svg style="left:305.30px;top:356.70px;width:4px;height:3px" viewBox="0 0 4 3"><path d="M.6 .8 L2 2.2 L3.4 .8" fill="none" stroke="#a9b3c3" stroke-width=".6"/></svg>
<svg style="left:0;top:0;width:800px;height:600px" viewBox="0 0 800 600"><g transform="rotate(-90 254.9 424.25)" fill="none" stroke-width="6.2"><circle cx="254.9" cy="424.25" r="36.7" stroke="#d77cf7"/><circle cx="254.9" cy="424.25" r="36.7" stroke="#5c67f7" stroke-dasharray="140.09 230.59"/></g></svg>
<span id="t97" style="left:254.90px;transform:translateX(-50%);top:417.00px;font-size:5.30px;line-height:6.89px;color:#212b37;letter-spacing:0.387px;">Total Audience</span>
<span id="t98" style="left:254.90px;transform:translateX(-50%);top:425.00px;font-size:9.90px;line-height:12.87px;color:#212b37;letter-spacing:0.533px;-webkit-text-stroke:.28px #212b37;">28924</span>
<div style="left:187.00px;top:477.20px;width:134.60px;height:1.00px;background:#f1f2f9;"></div>
<div style="left:187.00px;top:496.00px;width:134.60px;height:1.00px;background:#f1f2f9;"></div>
<svg style="left:0;top:0;width:800px;height:600px" viewBox="0 0 800 600"><circle cx="195.40" cy="486.00" r="1.85" fill="#5c67f7"/></svg>
<span id="t99" style="left:200.70px;top:482.00px;font-size:6.30px;line-height:8.19px;color:#212b37;letter-spacing:0.375px;">Men</span>
<span id="t100" style="right:483.80px;top:482.00px;font-size:6.10px;line-height:7.93px;color:#2a3343;font-weight:700;letter-spacing:0.126px;">60.64%</span>
<svg style="left:0;top:0;width:800px;height:600px" viewBox="0 0 800 600"><circle cx="195.40" cy="505.10" r="1.85" fill="#d77cf7"/></svg>
<span id="t101" style="left:200.70px;top:501.00px;font-size:6.30px;line-height:8.19px;color:#212b37;letter-spacing:0.602px;">Women</span>
<span id="t102" style="right:483.80px;top:501.00px;font-size:6.10px;line-height:7.93px;color:#2a3343;font-weight:700;letter-spacing:-0.034px;">59.36%</span>
</section>
<section>
<svg style="left:0;top:0;width:800px;height:600px" viewBox="0 0 800 600"><rect x="332.70" y="346.10" width="281.85" height="167.90" rx="2.80" fill="#fff" stroke="#eeeefa" stroke-width=".6" class="card"/></svg>
<h2 id="t103" style="left:341.70px;top:353.00px;font-size:7.00px;line-height:9.10px;color:#2a3343;letter-spacing:-0.062px;-webkit-text-stroke:.06px #2a3343;">AUDIENCE TOP COUNTRIES</h2><div style="left:333.20px;top:369.80px;width:280.80px;height:1.00px;background:#f1f2f9;"></div>
<span id="t104" style="left:348.80px;top:383.00px;font-size:5.00px;line-height:6.50px;color:#5f6b7c;letter-spacing:0.297px;">Usa</span>
<span id="t105" style="right:377.50px;top:383.00px;font-size:5.90px;line-height:7.67px;color:#212b37;letter-spacing:0.013px;">3,201</span>
<span id="t106" style="left:348.80px;top:399.00px;font-size:5.00px;line-height:6.50px;color:#5f6b7c;letter-spacing:0.489px;">India</span>
<span id="t107" style="right:377.50px;top:399.00px;font-size:5.90px;line-height:7.67px;color:#212b37;letter-spacing:0.263px;">2,345</span>
<span id="t108" style="left:348.80px;top:415.00px;font-size:5.00px;line-height:6.50px;color:#5f6b7c;letter-spacing:0.408px;">Vatican City</span>
<span id="t109" style="right:377.50px;top:415.00px;font-size:5.90px;line-height:7.67px;color:#212b37;letter-spacing:-0.322px;">106</span>
<span id="t110" style="left:348.80px;top:431.00px;font-size:5.00px;line-height:6.50px;color:#5f6b7c;letter-spacing:0.457px;">Canada</span>
<span id="t111" style="right:377.50px;top:431.00px;font-size:5.90px;line-height:7.67px;color:#212b37;letter-spacing:0.263px;">2,857</span>
<span id="t112" style="left:348.80px;top:447.00px;font-size:5.00px;line-height:6.50px;color:#5f6b7c;letter-spacing:0.500px;">Mauritius</span>
<span id="t113" style="right:377.50px;top:447.00px;font-size:5.90px;line-height:7.67px;color:#212b37;letter-spacing:-0.322px;">169</span>
<span id="t114" style="left:348.80px;top:463.00px;font-size:5.00px;line-height:6.50px;color:#5f6b7c;letter-spacing:0.438px;">Singapore</span>
<span id="t115" style="right:377.50px;top:463.00px;font-size:5.90px;line-height:7.67px;color:#212b37;letter-spacing:-0.062px;">1,950</span>
<span id="t116" style="left:348.80px;top:479.00px;font-size:5.00px;line-height:6.50px;color:#5f6b7c;letter-spacing:0.351px;">Palau</span>
<span id="t117" style="right:377.50px;top:479.00px;font-size:5.90px;line-height:7.67px;color:#212b37;letter-spacing:0.178px;">224</span>
<span id="t118" style="left:348.80px;top:495.00px;font-size:5.00px;line-height:6.50px;color:#5f6b7c;letter-spacing:0.395px;">Maldives</span>
<span id="t119" style="right:377.50px;top:496.00px;font-size:5.90px;line-height:7.67px;color:#212b37;letter-spacing:-0.172px;">147</span>
<svg style="left:0;top:0;width:800px;height:600px" viewBox="0 0 800 600"><circle cx="342.60" cy="386.00" r="2.10" fill="#5c67f7"/><circle cx="342.60" cy="402.07" r="2.10" fill="#d77cf7"/><circle cx="342.60" cy="418.14" r="2.10" fill="#fe5454"/><circle cx="342.60" cy="434.21" r="2.10" fill="#0ca3e7"/><circle cx="342.60" cy="450.28" r="2.10" fill="#fe7c58"/><circle cx="342.60" cy="466.35" r="2.10" fill="#f7a64a"/><circle cx="342.60" cy="482.42" r="2.10" fill="#12c9a0"/><circle cx="342.60" cy="498.49" r="2.10" fill="#f845a6"/></svg>
<svg style="left:0;top:0;width:800px;height:600px" viewBox="0 0 800 600"><g fill="#f4f5fc" stroke="#eceefa" stroke-width=".3" stroke-linejoin="round"><path d="M434.5 424.5 L437 420 L442 417.5 L450 417 L456 418.5 L462 416 L468 414 L474 416 L477 420 L478 426 L481 428 L484 424 L486 419 L490 421 L493 427 L496 431 L492 434 L487 436 L486 439 L483 443 L480 448 L478 452 L479 456 L476.5 453 L472 453 L470 457 L472 461 L476 462 L477 465 L480 467.5 L479 468.5 L475 466 L470 462 L466 457 L463 452 L459 446 L456 440 L454 434 L451 430 L446 427 L441 425.5 L437 427 Z"/><path d="M462 408 L468 405 L474 406 L476 410 L470 413 L464 412 Z"/><path d="M476 400 L482 397 L487 399 L486 404 L480 406 L476 404 Z"/><path d="M484 410 L490 409 L493 414 L488 417 L484 414 Z"/><path d="M481.5 392 L486 388 L494 386 L503 387 L508 390 L507 396 L503 402 L500 410 L496 420 L493 428 L490.5 424 L488 414 L485 404 L482 398 Z"/><path d="M506 419 L510 418 L511 421 L507 422 Z"/><path d="M479 468.5 L482 466.5 L487 466 L491 468 L495 469 L498 471.5 L497 475 L495.5 479 L493 483 L491 487 L489 491 L487 495 L486 497.5 L484.5 497 L484 492 L483 486 L481.5 481 L479 477 L477.5 473 Z"/><path d="M510.5 446.5 L510.5 441.5 L515 440.5 L516 436.5 L513.5 434.5 L517.5 432.5 L520.5 430.5 L521.5 427 L523.5 425.5 L522.5 421 L525 417.5 L529 414.5 L533.5 413.5 L537 415.5 L541 418.5 L546 417.5 L549 414.5 L553 413 L558 410.5 L563 409.5 L566 406.5 L571 407.5 L575 410.5 L582 411.5 L589 412.5 L596 414.5 L602 417.5 L605 421 L601 423.5 L597 424.5 L596 428.5 L598 432.5 L595.5 431 L593 426 L589 426.5 L585 429.5 L583 434.5 L584.5 439 L581.5 441 L580 445 L581 449.5 L577.5 453.5 L574 455.5 L572.5 459.5 L570 462.5 L567.5 460 L566.5 463 L567.5 467 L565.5 466 L563.5 460.5 L561.5 455.5 L558.5 453.5 L556 456.5 L553.5 461 L552 463 L549.5 458 L548 453.5 L544.5 452 L541 451.5 L543.5 455.5 L541 459.5 L537.5 461.5 L534.5 456 L532.5 451 L531.5 447.5 L528 446.5 L525.5 445 L522.5 446 L521.5 443.5 L519 441.5 L517.5 443.5 L519 446 L516.5 443 L514.5 441.5 L513 444.5 L512 446.5 Z"/><path d="M506 459 L506.5 454 L509 449.5 L513 447.5 L518 446.5 L521.5 448 L526 448.5 L530.5 448 L533 453 L535.5 458.5 L538 462 L540 463.5 L537 467.5 L534.5 471.5 L534 476 L531.5 480.5 L528.5 483.5 L526 484 L524 480 L522.5 474.5 L521.5 469.5 L519.5 465.5 L518 462.5 L513.5 463 L509.5 463 Z"/><path d="M540 474 L542 472.5 L542.5 477 L540.5 480 L539.5 477.5 Z"/><path d="M511.5 431 L513 427 L515.5 426 L516 430 L517.5 433 L514 433.5 Z"/><path d="M509 430.5 L511 429.5 L511 432.5 L509 432.5 Z"/><path d="M521.5 400 L525 399 L525.5 402 L522.5 402.5 Z"/><path d="M541 411 L546 407.5 L547 409 L543 412.5 Z"/><path d="M583.5 441.5 L586 437.5 L588 433.5 L589 435 L587 440 L584.5 443.5 Z"/><path d="M579 455 L580.5 454 L581 458 L579.5 459 Z"/><path d="M581.5 460 L583.5 459 L584.5 464.5 L582 464 Z"/><path d="M563.5 464.5 L566 466.5 L569.5 471 L567.5 471 L564 467.5 Z"/><path d="M572.5 464.5 L576.5 463 L577.5 467 L574 469.5 L572 467.5 Z"/><path d="M570 472 L576.5 472.5 L576.5 473.5 L570 473 Z"/><path d="M579 466 L581 465.5 L581 470 L579.5 470 Z"/><path d="M584.5 468 L589 468.5 L593.5 471 L591.5 472.5 L587 471 L584.5 470 Z"/><path d="M568.5 479 L571 475.5 L575 473.5 L578.5 472.5 L580.5 474 L583 472 L585 475 L588.5 478 L591.5 481.5 L592 486 L589 489 L585.5 488.5 L582 486 L578 485.5 L573.5 487 L569.5 485.5 Z"/><path d="M587 491 L589 491 L588.5 493 L587.5 493 Z"/><path d="M597.5 487.5 L599.5 489.5 L598 492 L596.5 490.5 Z"/><path d="M595 492 L597 493 L594.5 496 L593.5 495 Z"/><path d="M554 464 L555.2 464.5 L555 466.5 L554 466 Z"/><path d="M451 430 L478 430 M463 452 L472 453 M521 430 L531 447 M541 419 L548 452 M560 411 L562 455 M575 411 L574 440 M513 455 L536 458 M521 469 L534 471 M484 477 L496 476" fill="none" stroke="#e9ebf8" stroke-width=".3"/></g></svg>
<svg style="left:0;top:0;width:800px;height:600px" viewBox="0 0 800 600"><circle cx="463" cy="432.75" r="7.2" fill="#0ca3e7" opacity=".14"/><circle cx="465.75" cy="444.5" r="7.2" fill="#5c67f7" opacity=".14"/><circle cx="520" cy="443.5" r="7.2" fill="#fe5454" opacity=".14"/><circle cx="517.5" cy="465.5" r="7.2" fill="#000" opacity=".14"/><circle cx="552.25" cy="455.75" r="7.2" fill="#d77cf7" opacity=".14"/><circle cx="549.25" cy="464.25" r="7.2" fill="#f845a6" opacity=".14"/><circle cx="541.5" cy="475.75" r="7.2" fill="#fe7c58" opacity=".14"/><circle cx="564" cy="465" r="7.2" fill="#f7a64a" opacity=".14"/><circle cx="578.75" cy="462.25" r="7.2" fill="#12c9a0" opacity=".14"/><circle cx="463" cy="432.75" r="3.15" fill="#0ca3e7"/><circle cx="465.75" cy="444.5" r="3.15" fill="#5c67f7"/><circle cx="520" cy="443.5" r="3.15" fill="#fe5454"/><circle cx="517.5" cy="465.5" r="3.15" fill="#000"/><circle cx="552.25" cy="455.75" r="3.15" fill="#d77cf7"/><circle cx="549.25" cy="464.25" r="3.15" fill="#f845a6"/><circle cx="541.5" cy="475.75" r="3.15" fill="#fe7c58"/><circle cx="564" cy="465" r="3.15" fill="#f7a64a"/><circle cx="578.75" cy="462.25" r="3.15" fill="#12c9a0"/></svg>
</section>
<section>
<svg style="left:0;top:0;width:800px;height:600px" viewBox="0 0 800 600"><rect x="625.55" y="346.20" width="135.25" height="169.60" rx="2.80" fill="#fff" stroke="#eeeefa" stroke-width=".6" class="card"/></svg>
<h2 id="t120" style="left:634.50px;top:353.00px;font-size:7.00px;line-height:9.10px;color:#2a3343;letter-spacing:-0.113px;-webkit-text-stroke:.06px #2a3343;">REVENUE EARNED</h2><div style="left:626.00px;top:370.00px;width:134.40px;height:1.00px;background:#f1f2f9;"></div>
<span id="t121" style="left:721.00px;top:355.00px;font-size:5.40px;line-height:7.02px;color:#a9b3c3;letter-spacing:0.185px;">Sort By</span><svg style="left:744.00px;top:356.70px;width:4px;height:3px" viewBox="0 0 4 3"><path d="M.6 .8 L2 2.2 L3.4 .8" fill="none" stroke="#a9b3c3" stroke-width=".6"/></svg>
<svg style="left:0;top:0;width:800px;height:600px" viewBox="0 0 800 600"><g fill="none" stroke-width="1.75" stroke-linecap="round"><path d="M693.60 379.05 A25.25 25.25 0 1 1 682.85 427.15" stroke="#4d5ff6"/><path d="M693.60 383.20 A21.10 21.10 0 1 1 693.27 425.40" stroke="#d07af5"/><path d="M693.60 387.40 A16.90 16.90 0 0 1 698.06 420.60" stroke="#12c9a0"/><path d="M693.60 391.55 A12.75 12.75 0 1 1 682.24 410.09" stroke="#fe6a45"/></g></svg>
<div style="left:626.00px;top:438.90px;width:134.40px;height:1.00px;background:#f1f2f9;"></div>
<svg style="left:0;top:0;width:800px;height:600px" viewBox="0 0 800 600"><circle cx="634.20" cy="448.10" r="1.85" fill="#5c67f7"/></svg>
<span id="t122" style="left:639.60px;top:444.00px;font-size:6.20px;line-height:8.06px;color:#212b37;letter-spacing:0.469px;">Youtube</span>
<span id="t123" style="right:45.00px;top:444.00px;font-size:6.10px;line-height:7.93px;color:#2a3343;font-weight:700;letter-spacing:0.161px;">$76,562</span>
<div style="left:626.00px;top:458.20px;width:134.40px;height:1.00px;background:#f1f2f9;"></div>
<svg style="left:0;top:0;width:800px;height:600px" viewBox="0 0 800 600"><circle cx="634.20" cy="467.40" r="1.85" fill="#d77cf7"/></svg>
<span id="t124" style="left:639.60px;top:463.00px;font-size:6.20px;line-height:8.06px;color:#212b37;letter-spacing:0.544px;">Twitter</span>
<span id="t125" style="right:45.00px;top:463.00px;font-size:6.10px;line-height:7.93px;color:#2a3343;font-weight:700;letter-spacing:0.228px;">$67,454</span>
<div style="left:626.00px;top:477.60px;width:134.40px;height:1.00px;background:#f1f2f9;"></div>
<svg style="left:0;top:0;width:800px;height:600px" viewBox="0 0 800 600"><circle cx="634.20" cy="486.80" r="1.85" fill="#12c9a0"/></svg>
<span id="t126" style="left:639.60px;top:483.00px;font-size:6.20px;line-height:8.06px;color:#212b37;letter-spacing:0.330px;">Facebook</span>
<span id="t127" style="right:45.00px;top:483.00px;font-size:6.10px;line-height:7.93px;color:#2a3343;font-weight:700;letter-spacing:-0.089px;">$61,225</span>
<div style="left:626.00px;top:496.80px;width:134.40px;height:1.00px;background:#f1f2f9;"></div>
<svg style="left:0;top:0;width:800px;height:600px" viewBox="0 0 800 600"><circle cx="634.20" cy="506.00" r="1.85" fill="#fe7c58"/></svg>
<span id="t128" style="left:639.60px;top:502.00px;font-size:6.20px;line-height:8.06px;color:#212b37;letter-spacing:0.411px;">Instagram</span>
<span id="t129" style="right:45.00px;top:502.00px;font-size:6.10px;line-height:7.93px;color:#2a3343;font-weight:700;letter-spacing:0.328px;">$90,568</span>
</section>
<section>
<svg style="left:0;top:0;width:800px;height:600px" viewBox="0 0 800 600"><rect x="186.45" y="527.50" width="428.10" height="80.60" rx="2.80" fill="#fff" stroke="#eeeefa" stroke-width=".6" class="card"/></svg>
<h2 id="t130" style="left:195.50px;top:536.00px;font-size:7.00px;line-height:9.10px;color:#2a3343;letter-spacing:0.020px;-webkit-text-stroke:.06px #2a3343;">SOCIAL MEDIA PERFORMANCE</h2><div style="left:187.00px;top:554.30px;width:427.00px;height:1.00px;background:#f1f2f9;"></div>
<svg style="left:0;top:0;width:800px;height:600px" viewBox="0 0 800 600"><rect x="489.10" y="535.30" width="78.30" height="11.20" rx="2.00" fill="#fff" stroke="#eceef8" stroke-width="1"/><rect x="571.90" y="534.80" width="33.50" height="12.20" rx="2.00" fill="#5c67f7"/></svg>
<span id="t131" style="left:494.60px;top:538.00px;font-size:5.20px;line-height:6.76px;color:#b4bcc9;letter-spacing:0.438px;">Search Here</span>
<span id="t132" style="left:576.00px;top:538.00px;font-size:5.30px;line-height:6.89px;color:#fff;font-weight:700;letter-spacing:0.026px;">Sort By</span>
<svg style="left:597.2px;top:539.6px;width:4px;height:3px" viewBox="0 0 4 3"><path d="M.6 .8 L2 2.2 L3.4 .8" fill="none" stroke="#fff" stroke-width=".6"/></svg>
<span id="t133" style="left:195.10px;top:561.00px;font-size:6.00px;line-height:7.80px;color:#212b37;letter-spacing:0.438px;-webkit-text-stroke:.08px #212b37;">Date</span>
<span id="t134" style="left:254.30px;top:561.00px;font-size:6.00px;line-height:7.80px;color:#212b37;letter-spacing:0.522px;-webkit-text-stroke:.08px #212b37;">Platform</span>
<span id="t135" style="left:331.00px;top:561.00px;font-size:6.00px;line-height:7.80px;color:#212b37;letter-spacing:0.296px;-webkit-text-stroke:.08px #212b37;">Likes</span>
<span id="t136" style="left:370.40px;top:561.00px;font-size:6.00px;line-height:7.80px;color:#212b37;letter-spacing:0.598px;-webkit-text-stroke:.08px #212b37;">Comments</span>
<span id="t137" style="left:432.60px;top:561.00px;font-size:6.00px;line-height:7.80px;color:#212b37;letter-spacing:0.197px;-webkit-text-stroke:.08px #212b37;">Shares</span>
<span id="t138" style="left:478.40px;top:561.00px;font-size:6.00px;line-height:7.80px;color:#212b37;letter-spacing:0.396px;-webkit-text-stroke:.08px #212b37;">Impressions</span>
<span id="t139" style="left:544.40px;top:561.00px;font-size:6.00px;line-height:7.80px;color:#212b37;letter-spacing:0.372px;-webkit-text-stroke:.08px #212b37;">Engagemen(%)</span>
<div style="left:187.00px;top:573.40px;width:427.00px;height:1.00px;background:#f1f2f9;"></div>
<div style="left:187.00px;top:596.50px;width:427.00px;height:1.00px;background:#f1f2f9;"></div>
<span id="t140" style="left:195.10px;top:583.00px;font-size:5.60px;line-height:7.28px;color:#212b37;letter-spacing:0.208px;">2024-02-15</span>
<div style="left:254.30px;top:579.60px;width:12.20px;height:12.30px;background:#fde7e7;border-radius:2px;"></div>
<svg style="left:257.4px;top:583px;width:6px;height:5.4px" viewBox="0 0 6 5.4"><rect x=".2" y=".4" width="5.6" height="4.6" rx="1.2" fill="#f5474b"/><path d="M2.3 1.7 L3.9 2.7 L2.3 3.7 Z" fill="#fff"/></svg>
<span id="t141" style="left:270.00px;top:583.00px;font-size:5.70px;line-height:7.41px;color:#212b37;letter-spacing:0.555px;">Youtube</span>
<span id="t142" style="left:331.00px;top:583.00px;font-size:5.60px;line-height:7.28px;color:#212b37;letter-spacing:-0.372px;">150</span>
<span id="t143" style="left:370.40px;top:583.00px;font-size:5.60px;line-height:7.28px;color:#212b37;letter-spacing:0.366px;">25</span>
<span id="t144" style="left:432.60px;top:583.00px;font-size:5.60px;line-height:7.28px;color:#212b37;letter-spacing:0.766px;">50</span>
<div style="left:478.40px;top:582.40px;width:19.80px;height:7.10px;background:#e3e5fd;border-radius:1.2px;"></div>
<span id="t145" style="left:488.30px;transform:translateX(-50%);top:583.00px;font-size:4.00px;line-height:5.20px;color:#5c67f7;font-weight:700;letter-spacing:0.033px;">10,000</span>
<span id="t146" style="left:544.40px;top:583.00px;font-size:5.60px;line-height:7.28px;color:#212b37;letter-spacing:-0.317px;">3.5%</span>
</section>
<section>
<svg style="left:0;top:0;width:800px;height:600px" viewBox="0 0 800 600"><rect x="625.55" y="527.60" width="135.25" height="80.60" rx="2.80" fill="#fff" stroke="#eeeefa" stroke-width=".6" class="card"/></svg>
<h2 id="t147" style="left:634.50px;top:535.00px;font-size:7.00px;line-height:9.10px;color:#2a3343;letter-spacing:-0.174px;-webkit-text-stroke:.06px #2a3343;">SESSIONS BY DEVICE</h2><div style="left:626.00px;top:551.40px;width:134.40px;height:1.00px;background:#f1f2f9;"></div>
<span id="t148" style="left:721.00px;top:537.00px;font-size:5.40px;line-height:7.02px;color:#a9b3c3;letter-spacing:0.185px;">Sort By</span><svg style="left:744.00px;top:538.90px;width:4px;height:3px" viewBox="0 0 4 3"><path d="M.6 .8 L2 2.2 L3.4 .8" fill="none" stroke="#a9b3c3" stroke-width=".6"/></svg>
<svg style="left:0;top:0;width:800px;height:600px" viewBox="0 0 800 600"><path d="M635 565.00 H757" stroke="#edeef5" stroke-width=".5" stroke-dasharray="1 1"/><path d="M635 577.70 H757" stroke="#edeef5" stroke-width=".5" stroke-dasharray="1 1"/><path d="M635 590.60 H757" stroke="#edeef5" stroke-width=".5" stroke-dasharray="1 1"/><circle cx="659.4" cy="602.4" r="8.4" fill="#4f62f6"/></svg>
</section>
</main>
</div></body></html>
